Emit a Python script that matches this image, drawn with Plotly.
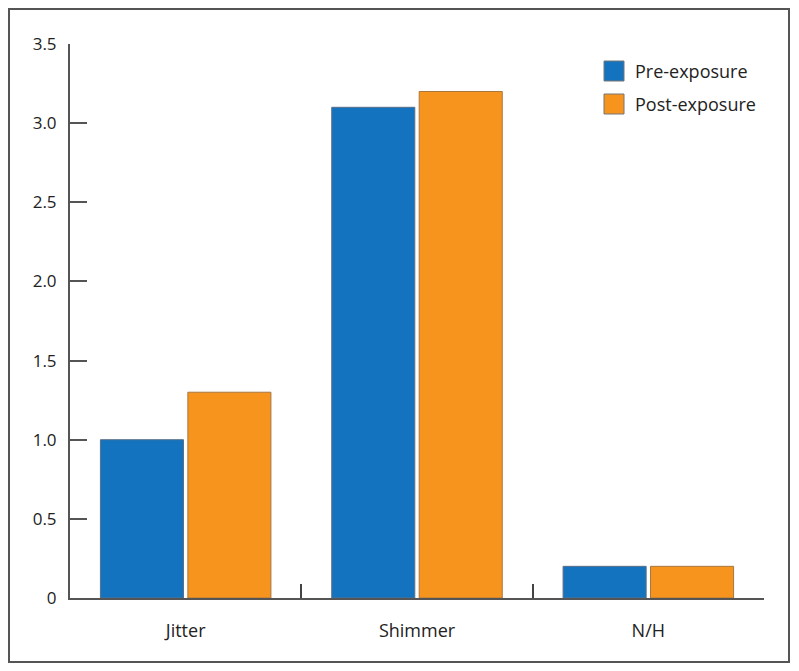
import plotly.graph_objects as go

categories = ['Jitter', 'Shimmer', 'N/H']
pre_exposure = [1.0, 3.1, 0.2]
post_exposure = [1.3, 3.2, 0.2]
y_ticks = [0, 0.5, 1.0, 1.5, 2.0, 2.5, 3.0, 3.5]
y_tick_labels = ['0', '0.5', '1.0', '1.5', '2.0', '2.5', '3.0', '3.5']

blue = '#1473bf'
orange = '#f7941e'
font = 'Open Sans'

fig = go.Figure()
fig.add_trace(go.Bar(x=categories, y=pre_exposure, name='Pre-exposure',
                     marker=dict(color=blue, line=dict(color='#5a6f85', width=1))))
fig.add_trace(go.Bar(x=categories, y=post_exposure, name='Post-exposure',
                     marker=dict(color=orange, line=dict(color='#a8773f', width=1))))

# the page puts the figure 8px in from the top left, so work in screen px minus 8
OFF = 8
W, H = 799 - OFF, 671 - OFF
L, R, T, B = 70 - OFF, 764 - OFF, 44 - OFF, 598 - OFF
pw, ph = R - L, B - T

def px(x):
    return (x - OFF - L) / pw

def py(y):
    return (B - (y - OFF)) / ph

# outer frame
fig.add_shape(type='rect', xref='paper', yref='paper',
              x0=px(9), x1=px(789), y0=py(662), y1=py(9),
              line=dict(color='#555555', width=2), layer='below')

# manual legend
for name, col, yc in [('Pre-exposure', blue, 71), ('Post-exposure', orange, 104)]:
    fig.add_shape(type='rect', xref='paper', yref='paper',
                  x0=px(604), x1=px(624), y0=py(yc + 10), y1=py(yc - 10),
                  fillcolor=col, line=dict(color='#777777', width=1))
    fig.add_annotation(xref='paper', yref='paper', x=px(633), y=py(yc),
                       text=name, showarrow=False, xanchor='left', yanchor='middle',
                       font=dict(family=font, size=18, color='#222222'))

fig.update_layout(
    width=W, height=H,
    margin=dict(l=L, r=W - R, t=T, b=H - B),
    paper_bgcolor='white', plot_bgcolor='white',
    barmode='group', bargap=0.244, bargroupgap=0.05,
    showlegend=False,
    font=dict(family=font, size=17, color='#222222'),
)
fig.update_xaxes(range=[-0.5, 2.5], showline=True, linecolor='#555555', linewidth=2,
                 ticks='inside', tickson='boundaries', ticklen=14, tickwidth=1.5,
                 tickcolor='#444444', showgrid=False, ticklabelstandoff=15,
                 tickfont=dict(size=18))
fig.update_yaxes(range=[0, 3.5], tickvals=y_ticks, ticktext=y_tick_labels,
                 showline=True, linecolor='#555555', linewidth=2,
                 ticks='inside', ticklen=17, tickwidth=1.5, tickcolor='#555555',
                 showgrid=False, zeroline=False, ticklabelstandoff=8)

fig.write_html('out.html')
